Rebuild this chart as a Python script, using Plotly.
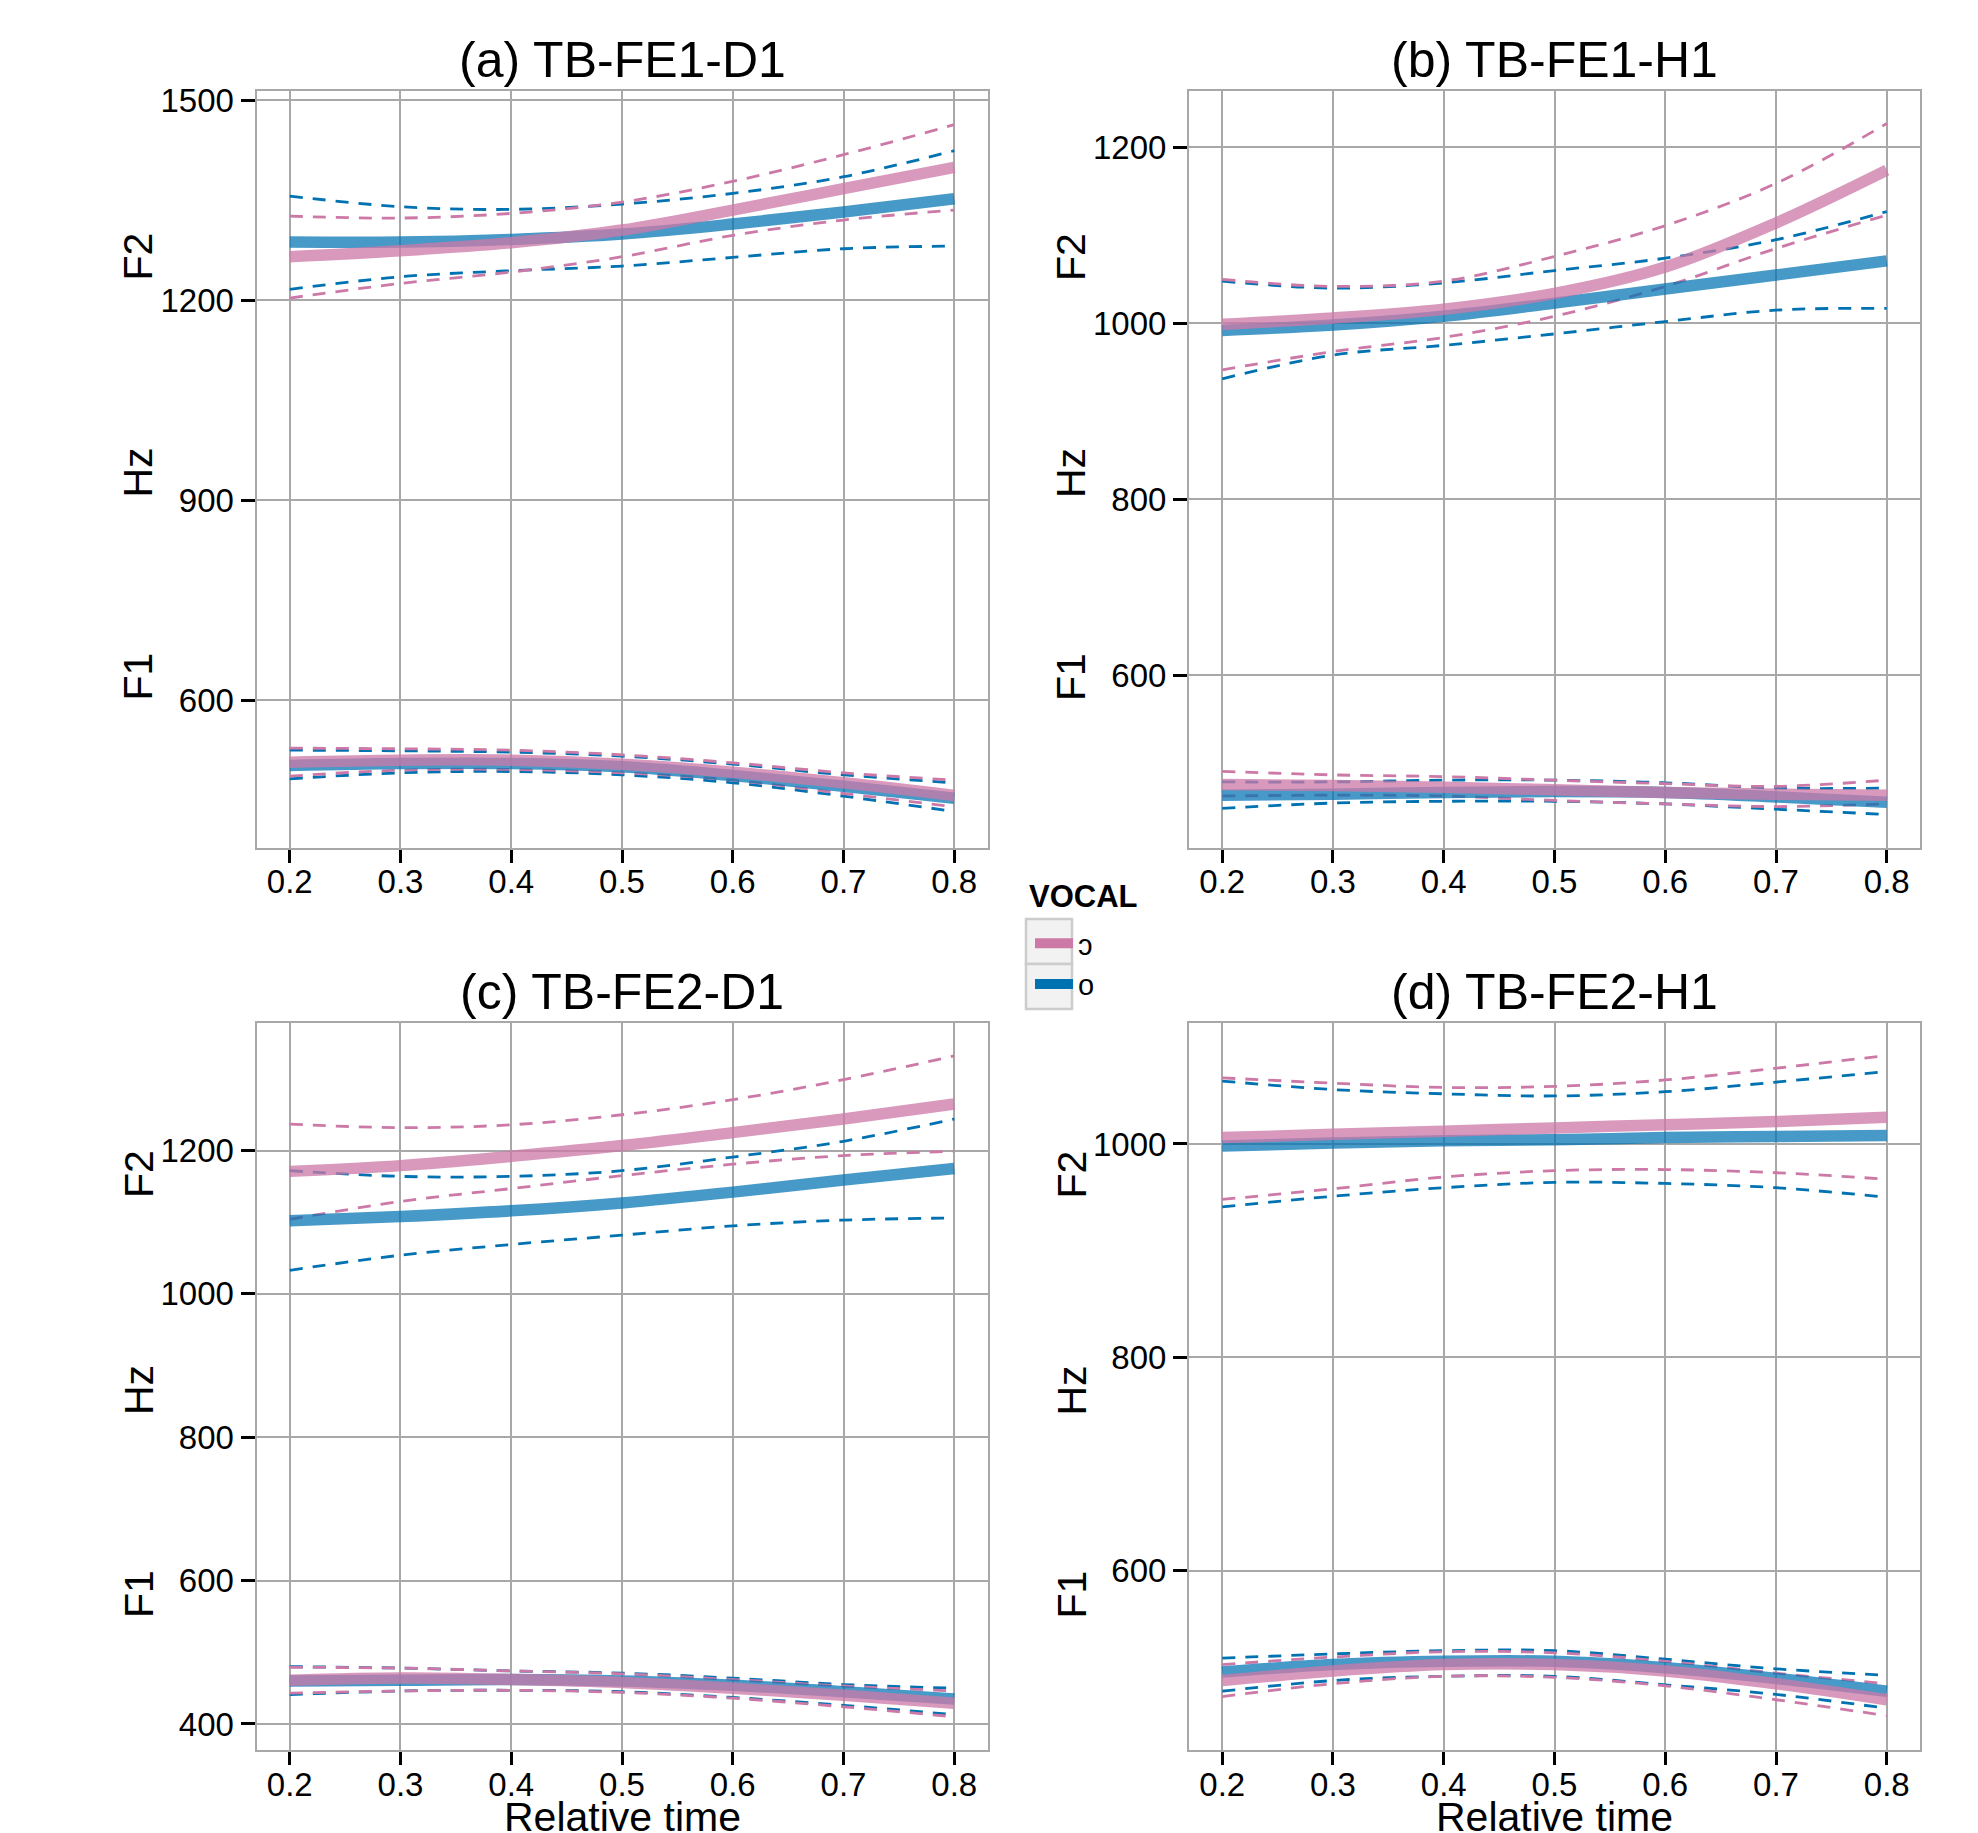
import plotly.graph_objects as go

# ---------------- data ----------------
TIME = [0.2, 0.3, 0.4, 0.5, 0.6, 0.7, 0.8]
X_TICKS = [0.2, 0.3, 0.4, 0.5, 0.6, 0.7, 0.8]
X_TICKTEXT = ["0.2", "0.3", "0.4", "0.5", "0.6", "0.7", "0.8"]
VOWELS = ["ɔ", "o"]
PANEL_TITLES = ["(a) TB-FE1-D1", "(b) TB-FE1-H1", "(c) TB-FE2-D1", "(d) TB-FE2-H1"]

# Panel (a) TB-FE1-D1
A_F2_OPEN_FIT = [1265, 1274, 1286, 1305, 1335, 1367, 1399]
A_F2_OPEN_LO = [1203, 1225, 1242, 1265, 1297, 1320, 1335]
A_F2_OPEN_HI = [1326, 1323, 1330, 1347, 1378, 1418, 1463]
A_F2_CLOSE_FIT = [1287, 1287, 1291, 1299, 1314, 1332, 1352]
A_F2_CLOSE_LO = [1216, 1235, 1244, 1251, 1264, 1277, 1281]
A_F2_CLOSE_HI = [1356, 1340, 1336, 1344, 1360, 1385, 1424]
A_F1_OPEN_FIT = [507, 510, 510, 504, 492, 476, 457]
A_F1_OPEN_LO = [486, 495, 496, 491, 480, 460, 440]
A_F1_OPEN_HI = [528, 527, 525, 518, 506, 491, 480]
A_F1_CLOSE_FIT = [502, 505, 505, 500, 487, 471, 453]
A_F1_CLOSE_LO = [482, 491, 493, 488, 476, 456, 433]
A_F1_CLOSE_HI = [525, 524, 522, 516, 504, 488, 476]

# Panel (b) TB-FE1-H1
B_F2_OPEN_FIT = [999, 1006, 1016, 1034, 1064, 1114, 1174]
B_F2_OPEN_LO = [947, 968, 984, 1008, 1042, 1085, 1123]
B_F2_OPEN_HI = [1050, 1042, 1048, 1076, 1111, 1159, 1227]
B_F2_CLOSE_FIT = [992, 998, 1008, 1023, 1039, 1055, 1071]
B_F2_CLOSE_LO = [937, 964, 975, 988, 1002, 1015, 1017]
B_F2_CLOSE_HI = [1048, 1040, 1046, 1060, 1074, 1095, 1127]
B_F1_OPEN_FIT = [476, 475, 473, 470, 467, 465, 464]
B_F1_OPEN_LO = [463, 464, 463, 458, 454, 451, 454]
B_F1_OPEN_HI = [491, 487, 485, 481, 477, 474, 481]
B_F1_CLOSE_FIT = [464, 465, 467, 468, 467, 462, 456]
B_F1_CLOSE_LO = [449, 455, 457, 457, 454, 448, 442]
B_F1_CLOSE_HI = [479, 479, 481, 481, 478, 472, 472]

# Panel (c) TB-FE2-D1
C_F2_OPEN_FIT = [1171, 1179, 1192, 1207, 1225, 1244, 1265]
C_F2_OPEN_LO = [1104, 1129, 1147, 1165, 1181, 1193, 1199]
C_F2_OPEN_HI = [1237, 1232, 1236, 1250, 1271, 1299, 1332]
C_F2_CLOSE_FIT = [1102, 1108, 1116, 1127, 1142, 1159, 1175]
C_F2_CLOSE_LO = [1033, 1054, 1069, 1082, 1095, 1103, 1106]
C_F2_CLOSE_HI = [1172, 1164, 1164, 1172, 1191, 1213, 1244]
C_F1_OPEN_FIT = [461, 464, 462, 458, 450, 440, 429]
C_F1_OPEN_LO = [443, 446, 447, 444, 436, 424, 410]
C_F1_OPEN_HI = [479, 478, 474, 470, 462, 453, 446]
C_F1_CLOSE_FIT = [460, 461, 462, 460, 454, 445, 435]
C_F1_CLOSE_LO = [441, 446, 447, 445, 437, 426, 413]
C_F1_CLOSE_HI = [480, 478, 474, 471, 464, 455, 450]

# Panel (d) TB-FE2-H1
D_F2_OPEN_FIT = [1006, 1009, 1012, 1015, 1018, 1021, 1025]
D_F2_OPEN_LO = [948, 958, 969, 975, 976, 973, 967]
D_F2_OPEN_HI = [1062, 1057, 1053, 1054, 1060, 1071, 1083]
D_F2_CLOSE_FIT = [998, 1001, 1003, 1004, 1006, 1007, 1008]
D_F2_CLOSE_LO = [941, 951, 959, 964, 963, 959, 950]
D_F2_CLOSE_HI = [1059, 1051, 1047, 1045, 1049, 1058, 1068]
D_F1_OPEN_FIT = [497, 506, 512, 512, 506, 494, 479]
D_F1_OPEN_LO = [482, 494, 501, 500, 492, 479, 464]
D_F1_OPEN_HI = [512, 519, 524, 523, 515, 504, 494]
D_F1_CLOSE_FIT = [505, 512, 515, 515, 509, 499, 487]
D_F1_CLOSE_LO = [487, 497, 501, 501, 493, 484, 471]
D_F1_CLOSE_HI = [518, 522, 525, 525, 517, 508, 502]

Y_RANGES = [[379, 1514], [404.5, 1264.3], [363.7, 1378], [431.9, 1113.4]]
Y_TICKS = [[600, 900, 1200, 1500], [600, 800, 1000, 1200],
           [400, 600, 800, 1000, 1200], [600, 800, 1000]]

# ---------------- styling ----------------
OFF = 8                      # default page (body) margin of the html page
FW, FH = 1978 - OFF, 1833 - OFF
PINK = "#CC79A7"
BLUE = "#0072B2"
PINK_A = "rgba(204,121,167,0.76)"
BLUE_A = "rgba(0,114,178,0.72)"
GRID = "#A8A8A8"
FONT = "Liberation Sans, Arial, Helvetica, sans-serif"


def px(X):
    return (X - OFF) / FW


def py(Y):
    return 1 - (Y - OFF) / FH


PANELS = [
    dict(f2o=(A_F2_OPEN_FIT, A_F2_OPEN_LO, A_F2_OPEN_HI), f2c=(A_F2_CLOSE_FIT, A_F2_CLOSE_LO, A_F2_CLOSE_HI),
         f1o=(A_F1_OPEN_FIT, A_F1_OPEN_LO, A_F1_OPEN_HI), f1c=(A_F1_CLOSE_FIT, A_F1_CLOSE_LO, A_F1_CLOSE_HI)),
    dict(f2o=(B_F2_OPEN_FIT, B_F2_OPEN_LO, B_F2_OPEN_HI), f2c=(B_F2_CLOSE_FIT, B_F2_CLOSE_LO, B_F2_CLOSE_HI),
         f1o=(B_F1_OPEN_FIT, B_F1_OPEN_LO, B_F1_OPEN_HI), f1c=(B_F1_CLOSE_FIT, B_F1_CLOSE_LO, B_F1_CLOSE_HI)),
    dict(f2o=(C_F2_OPEN_FIT, C_F2_OPEN_LO, C_F2_OPEN_HI), f2c=(C_F2_CLOSE_FIT, C_F2_CLOSE_LO, C_F2_CLOSE_HI),
         f1o=(C_F1_OPEN_FIT, C_F1_OPEN_LO, C_F1_OPEN_HI), f1c=(C_F1_CLOSE_FIT, C_F1_CLOSE_LO, C_F1_CLOSE_HI)),
    dict(f2o=(D_F2_OPEN_FIT, D_F2_OPEN_LO, D_F2_OPEN_HI), f2c=(D_F2_CLOSE_FIT, D_F2_CLOSE_LO, D_F2_CLOSE_HI),
         f1o=(D_F1_OPEN_FIT, D_F1_OPEN_LO, D_F1_OPEN_HI), f1c=(D_F1_CLOSE_FIT, D_F1_CLOSE_LO, D_F1_CLOSE_HI)),
]

# panel boxes in window pixels (left, right, top, bottom)
BOXES = [(256.5, 987.5, 90.7, 847.5), (1189, 1920, 90.7, 847.5),
         (256.5, 987.5, 1023, 1750), (1189, 1920, 1023, 1750)]

fig = go.Figure()

for i, p in enumerate(PANELS):
    xa = "x" if i == 0 else f"x{i+1}"
    ya = "y" if i == 0 else f"y{i+1}"
    order = (("f2c", BLUE, BLUE_A), ("f1c", BLUE, BLUE_A), ("f2o", PINK, PINK_A), ("f1o", PINK, PINK_A))
    for key, col, cola in order:
        fit, lo, hi = p[key]
        for band in (lo, hi):
            fig.add_trace(go.Scatter(x=TIME, y=band, mode="lines", xaxis=xa, yaxis=ya,
                                     line=dict(color=col, width=2.8, dash="13px,10px", shape="spline"),
                                     showlegend=False, hoverinfo="skip"))
    for key, col, cola in order:
        fit, lo, hi = p[key]
        fig.add_trace(go.Scatter(x=TIME, y=fit, mode="lines", xaxis=xa, yaxis=ya,
                                 line=dict(color=cola, width=11.5, shape="spline"),
                                 showlegend=False, hoverinfo="skip"))

# legend entries (full colour keys, as in the reference)
for name, col in zip(VOWELS, [PINK, BLUE]):
    fig.add_trace(go.Scatter(x=[None], y=[None], mode="lines", name=name,
                             line=dict(color=col, width=10), showlegend=True))

layout = dict(
    width=FW, height=FH,
    margin=dict(l=0, r=0, t=0, b=0, pad=0),
    paper_bgcolor="white", plot_bgcolor="white",
    font=dict(family=FONT, color="black"),
    showlegend=True,
    legend=dict(
        x=px(1030), y=py(918), xanchor="left", yanchor="top",
        bgcolor="rgba(0,0,0,0)",
        font=dict(size=29, family=FONT, color="black"),
        itemwidth=38, tracegroupgap=0,
    ),
)

annotations = []
shapes = []
for i, (l, r, t, b) in enumerate(BOXES):
    sx = "" if i == 0 else str(i + 1)
    bottom_row = i >= 2
    layout[f"xaxis{sx}"] = dict(
        domain=[px(l), px(r)], anchor=f"y{sx}", range=[0.17, 0.83],
        tickvals=X_TICKS, ticktext=X_TICKTEXT, automargin=False,
        showgrid=True, gridcolor=GRID, gridwidth=1.6, zeroline=False,
        showline=True, mirror=True, linecolor=GRID, linewidth=2,
        ticks="outside", ticklen=13, tickwidth=3.3, tickcolor="black",
        ticklabelstandoff=-9,
        tickfont=dict(size=33, family=FONT, color="black"),
    )
    layout[f"yaxis{sx}"] = dict(
        domain=[py(b), py(t)], anchor=f"x{sx}", range=Y_RANGES[i],
        tickvals=Y_TICKS[i], automargin=False,
        showgrid=True, gridcolor=GRID, gridwidth=1.6, zeroline=False,
        showline=True, mirror=True, linecolor=GRID, linewidth=2,
        ticks="outside", ticklen=14, tickwidth=3.3, tickcolor="black",
        tickfont=dict(size=33, family=FONT, color="black"),
    )
    # panel title
    annotations.append(dict(text=PANEL_TITLES[i], xref="paper", yref="paper",
                            x=px((l + r) / 2), y=py(t - 1), xanchor="center", yanchor="bottom",
                            showarrow=False, font=dict(size=50, family=FONT, color="black")))
    # y axis labels F2 / Hz / F1
    mid = (t + b) / 2
    for txt, yy in (("F2", mid - 212), ("Hz", mid + 4), ("F1", mid + 208)):
        annotations.append(dict(text=txt, xref="paper", yref="paper", x=px(l - 118), y=py(yy),
                                xanchor="center", yanchor="middle", textangle=-90, showarrow=False,
                                font=dict(size=41, family=FONT, color="black")))
    if bottom_row:
        annotations.append(dict(text="Relative time", xref="paper", yref="paper",
                                x=px((l + r) / 2), y=py(1817), xanchor="center", yanchor="middle",
                                showarrow=False, font=dict(size=41, family=FONT, color="black")))

# legend title
annotations.append(dict(text="<b>VOCAL</b>", xref="paper", yref="paper", x=px(1027), y=py(896),
                        xanchor="left", yanchor="middle", showarrow=False,
                        font=dict(size=31, family=FONT, color="black")))

# legend key boxes
for k in range(2):
    y0 = 919 + k * 45
    shapes.append(dict(type="rect", xref="paper", yref="paper", layer="below",
                       x0=px(1026), x1=px(1072), y0=py(y0 + 45), y1=py(y0),
                       fillcolor="#F2F2F2", line=dict(color="#CCCCCC", width=2.5)))

layout["annotations"] = annotations
layout["shapes"] = shapes
fig.update_layout(**layout)
fig.write_html("out.html")
